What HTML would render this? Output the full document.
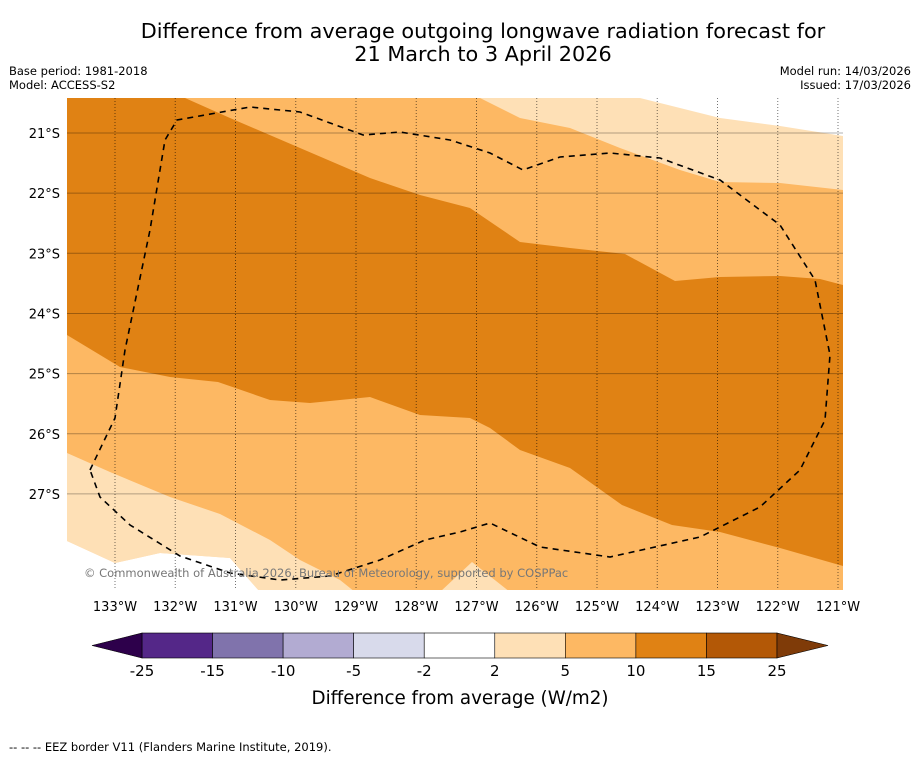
<!DOCTYPE html>
<html><head><meta charset="utf-8"><style>
body{margin:0;background:#fff;font-family:"DejaVu Sans","Liberation Sans",sans-serif;}
svg{display:block}
</style></head><body>
<svg width="919" height="758" viewBox="0 0 919 758" font-family="DejaVu Sans, Liberation Sans, sans-serif">
<text x="483" y="38" font-size="20.8" text-anchor="middle">Difference from average outgoing longwave radiation forecast for</text>
<text x="483" y="61" font-size="20.8" text-anchor="middle">21 March to 3 April 2026</text>
<text x="9" y="75" font-size="11.5">Base period: 1981-2018</text>
<text x="9" y="89" font-size="11.5">Model: ACCESS-S2</text>
<text x="911" y="75" font-size="11.5" text-anchor="end">Model run: 14/03/2026</text>
<text x="911" y="89" font-size="11.5" text-anchor="end">Issued: 17/03/2026</text>
<defs><clipPath id="mc"><rect x="67" y="98" width="776" height="492"/></clipPath></defs>
<g clip-path="url(#mc)">
<rect x="67" y="98" width="776" height="492" fill="#fdb863"/>
<polygon fill="#fee0b6" points="480,98 520,118 570,128 620,148 680,170 720,182 780,183 843,190 843,98"/>
<polygon fill="#ffffff" points="640,98 720,118 780,126 843,136 843,98"/>
<polygon fill="#e08214" points="67,98 185,98 230,118 300,148 370,178 420,195 470,208 495,225 520,242 570,248 625,254 675,281 720,277 780,276 820,279 843,285 843,566 780,548 720,532 672,525 622,505 570,468 520,450 490,428 470,418 420,415 370,397 310,403 270,400 218,382 170,377 120,367 67,335"/>
<polygon fill="#fee0b6" points="67,453 110,472 170,497 220,514 270,540 300,560 340,580 355,592 260,592 230,558 160,553 115,563 67,541"/>
<polygon fill="#ffffff" points="67,541 115,563 160,553 230,558 260,592 67,592"/>
<polygon fill="#fee0b6" points="472,562 510,592 440,592"/>
<g id="grid" stroke="#000" stroke-opacity="0.55" stroke-width="1" stroke-dasharray="1,2"></g>
<polyline fill="none" stroke="#000" stroke-width="1.6" stroke-dasharray="6,5" points="90,470 115,418 125,350 150,230 165,140 177,120 250,107 300,112 363,135 400,132 450,140 490,153 523,170 560,157 610,153 660,158 720,180 780,225 815,280 830,355 825,420 800,470 760,507 700,537 610,557 540,547 490,523 460,532 425,540 380,560 330,576 280,580 230,573 180,556 130,525 100,497 90,470"/>
<text x="84" y="577" font-size="11.5" fill="#777">© Commonwealth of Australia 2026, Bureau of Meteorology, supported by COSPPac</text>
</g>
<g id="latlabels" font-size="13" text-anchor="end"></g>
<g id="lonlabels" font-size="13" text-anchor="middle"></g>
<g id="cbar"></g>
<text x="460" y="704" font-size="18.3" text-anchor="middle">Difference from average (W/m2)</text>
<text x="9" y="751" font-size="11.5">--  --  -- EEZ border V11 (Flanders Marine Institute, 2019).</text>
</svg>
<script>
const lats=[21,22,23,24,25,26,27];
const lons=[133,132,131,130,129,128,127,126,125,124,123,122,121];
const levels=["-25","-15","-10","-5","-2","2","5","10","15","25"];
const colors=["#542788","#8073ac","#b2abd2","#d8daeb","#ffffff","#fee0b6","#fdb863","#e08214","#b35806"];
const NS="http://www.w3.org/2000/svg";
const yLat=l=>133+(l-21)*60.15;
const xLon=l=>115+(133-l)*60.25;
const grid=document.getElementById('grid');
lats.forEach(l=>{const e=document.createElementNS(NS,'line');


e.setAttribute('x1',67);e.setAttribute('x2',843);e.setAttribute('y1',yLat(l));e.setAttribute('y2',yLat(l));e.setAttribute('stroke-dasharray','none');e.setAttribute('stroke-opacity','0.3');grid.appendChild(e);
const t=document.createElementNS(NS,'text');


t.setAttribute('x',60);t.setAttribute('y',yLat(l)+5);t.textContent=l+'°S';document.getElementById('latlabels').appendChild(t);});
lons.forEach(l=>{const e=document.createElementNS(NS,'line');


e.setAttribute('y1',98);e.setAttribute('y2',590);e.setAttribute('x1',xLon(l));e.setAttribute('x2',xLon(l));grid.appendChild(e);
const t=document.createElementNS(NS,'text');


t.setAttribute('x',xLon(l));t.setAttribute('y',611);t.textContent=l+'°W';document.getElementById('lonlabels').appendChild(t);});
const cb=document.getElementById('cbar');
const x0=142,x1=777,y0=633,h=25,w=(x1-x0)/colors.length;
colors.forEach((c,i)=>{const r=document.createElementNS(NS,'rect');


r.setAttribute('x',x0+i*w);r.setAttribute('y',y0);r.setAttribute('width',w);r.setAttribute('height',h);r.setAttribute('fill',c);r.setAttribute('stroke','#000');r.setAttribute('stroke-width','0.6');cb.appendChild(r);});
const la=document.createElementNS(NS,'polygon');


la.setAttribute('points',`${x0},${y0} ${x0},${y0+h} 92,${y0+h/2}`);la.setAttribute('fill','#2d004b');la.setAttribute('stroke','#000');la.setAttribute('stroke-width','0.6');cb.appendChild(la);
const ra=document.createElementNS(NS,'polygon');


ra.setAttribute('points',`${x1},${y0} ${x1},${y0+h} 828,${y0+h/2}`);ra.setAttribute('fill','#7f3b08');ra.setAttribute('stroke','#000');ra.setAttribute('stroke-width','0.6');cb.appendChild(ra);
levels.forEach((v,i)=>{const t=document.createElementNS(NS,'text');


t.setAttribute('x',x0+i*w);t.setAttribute('y',676);t.setAttribute('font-size','15');t.setAttribute('text-anchor','middle');t.textContent=v;cb.appendChild(t);});
</script>
</body></html>
